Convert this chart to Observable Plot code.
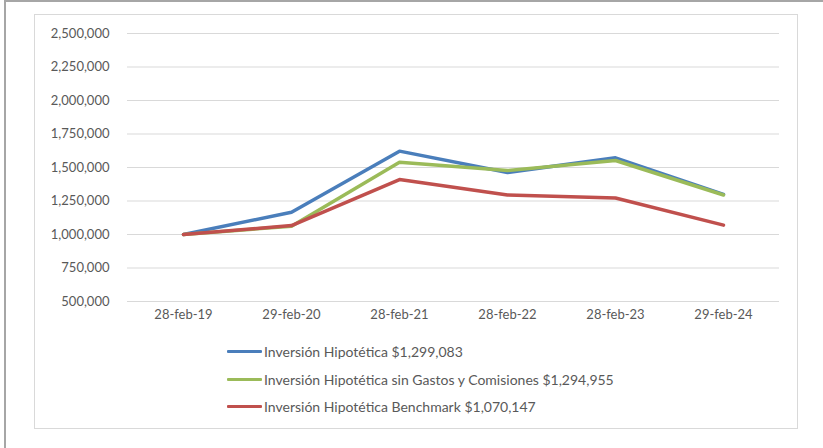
<!DOCTYPE html>
<html>
<head>
<meta charset="utf-8">
<script src="https://cdn.jsdelivr.net/npm/d3@7"></script>
<script src="https://cdn.jsdelivr.net/npm/@observablehq/plot@0.6"></script>
<style>
  html, body { margin: 0; padding: 0; background: #fff; }
  #page { position: relative; width: 823px; height: 448px; overflow: hidden; font-family: Lato, "Open Sans", sans-serif; color: #595959; }
  #frame { position: absolute; left: 4px; top: 0; width: 830px; height: 460px; border-top: 2px solid #a6a6a6; border-left: 2px solid #a6a6a6; box-sizing: border-box; }
  #box { position: absolute; left: 34px; top: 14px; width: 764px; height: 415px; border: 1px solid #d9d9d9; box-sizing: border-box; }
  #chart { position: absolute; left: 34px; top: 14px; }
  #legend { position: absolute; left: 227px; top: 340px; font-size: 14px; }
  .row { position: absolute; left: 0; height: 20px; display: flex; align-items: center; white-space: nowrap; }
  .sw { width: 35px; height: 3px; margin-right: 2px; border-radius: 1px; }
</style>
</head>
<body>
<div id="page">
  <div id="frame"></div>
  <div id="box"></div>
  <div id="chart"></div>
  <div id="legend"></div>
</div>
<script>
const dates = ["28-feb-19", "29-feb-20", "28-feb-21", "28-feb-22", "28-feb-23", "29-feb-24"];
const seriesNames = [
  "Inversión Hipotética $1,299,083",
  "Inversión Hipotética sin Gastos y Comisiones $1,294,955",
  "Inversión Hipotética Benchmark $1,070,147"
];
const seriesColors = ["#4a7ebb", "#9bbb59", "#c0504d"];
const hipotetica = [1000000, 1166000, 1622000, 1463000, 1572000, 1299083];
const sinGastos = [1000000, 1062000, 1540000, 1478000, 1552000, 1294955];
const benchmark = [1000000, 1067000, 1410000, 1295000, 1272000, 1070147];
const yTicks = [500000, 750000, 1000000, 1250000, 1500000, 1750000, 2000000, 2250000, 2500000];

const seriesValues = [hipotetica, sinGastos, benchmark];
const rows = [];
seriesValues.forEach((vals, i) => {
  vals.forEach((v, j) => rows.push({ date: dates[j], value: v, series: seriesNames[i] }));
});

const chart = Plot.plot({
  width: 763,
  height: 310,
  marginTop: 19,
  marginBottom: 23,
  marginLeft: 93,
  marginRight: 18,
  style: { fontFamily: "Lato, 'Open Sans', sans-serif", fontSize: "13px", color: "#595959", background: "transparent" },
  x: { type: "point", domain: dates, padding: 0.5, label: null },
  y: { domain: [500000, 2500000], label: null },
  color: { domain: seriesNames, range: seriesColors },
  marks: [
    Plot.ruleY(yTicks, { stroke: "#d9d9d9", strokeWidth: 1 }),
    Plot.axisY({ ticks: yTicks, tickSize: 0, tickPadding: 18, tickFormat: d3.format(","), label: null, fill: "#595959" }),
    Plot.axisX({ tickSize: 0, tickPadding: 8, label: null, fill: "#595959" }),
    Plot.line(rows, { x: "date", y: "value", z: "series", stroke: "series", strokeWidth: 3.5, strokeLinejoin: "round", strokeLinecap: "round" })
  ]
});
document.getElementById("chart").appendChild(chart);

const legend = document.getElementById("legend");
const rowTops = [1, 29, 56];
seriesNames.forEach((name, i) => {
  const r = document.createElement("div");
  r.className = "row";
  r.style.top = rowTops[i] + "px";
  const sw = document.createElement("span");
  sw.className = "sw";
  sw.style.background = seriesColors[i];
  const t = document.createElement("span");
  t.textContent = name;
  r.appendChild(sw);
  r.appendChild(t);
  legend.appendChild(r);
});
</script>
</body>
</html>
